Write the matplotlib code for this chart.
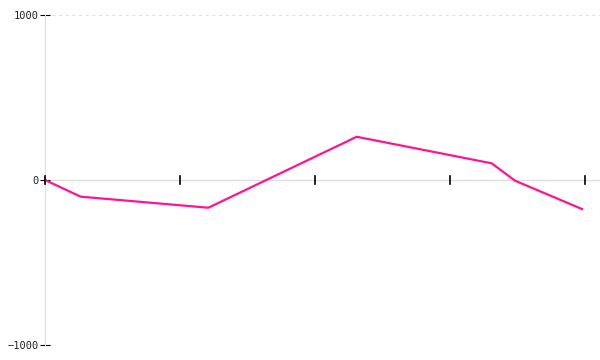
import matplotlib
matplotlib.use("Agg")
import matplotlib.pyplot as plt

# values
x_vals = [0.0, 0.264, 1.21, 2.309, 3.309, 3.481, 3.978]
y_vals = [0, -101, -168, 262, 101, -4, -176]
x_ticks = [0, 1, 2, 3, 4]
y_ticks = [-1000, 0, 1000]
y_labels = ["\u22121000", "0", "1000"]

fig = plt.figure(figsize=(6, 3.6), dpi=100)
ax = fig.add_axes([45 / 600, 15 / 360, 555 / 600, 330 / 360])

ax.set_xlim(0, 555 / 135)
ax.set_ylim(-1000, 1000)

for s in ["top", "right", "bottom"]:
    ax.spines[s].set_visible(False)
ax.spines["left"].set_color("#dddddd")
ax.spines["left"].set_linewidth(0.8)

# dashed grid at the outer ticks, solid zero line
for yv in [y_ticks[0], y_ticks[-1]]:
    ax.axhline(yv, color="#e2e2e2", lw=0.8, ls=(0, (3, 3)), zorder=0)
ax.axhline(0, color="#dddddd", lw=1.0, zorder=1)

ax.plot(x_vals, y_vals, color="#ff1493", lw=1.6, zorder=3, clip_on=False)

ax.set_xticks(x_ticks)
ax.set_xticklabels([])
for t in ax.xaxis.get_major_ticks():
    t.tick1line.set_visible(False)
# x ticks sit on the zero line
for xv in x_ticks:
    ax.plot([xv, xv], [-25, 25], color="black", lw=1.2, zorder=4, clip_on=False)

ax.set_yticks(y_ticks)
ax.set_yticklabels(y_labels, family="DejaVu Sans Mono", fontsize=7.5, color="#222222")
ax.tick_params(axis="y", direction="inout", length=7, width=0.8, color="black", pad=1)

fig.savefig("out.png", dpi=100)
